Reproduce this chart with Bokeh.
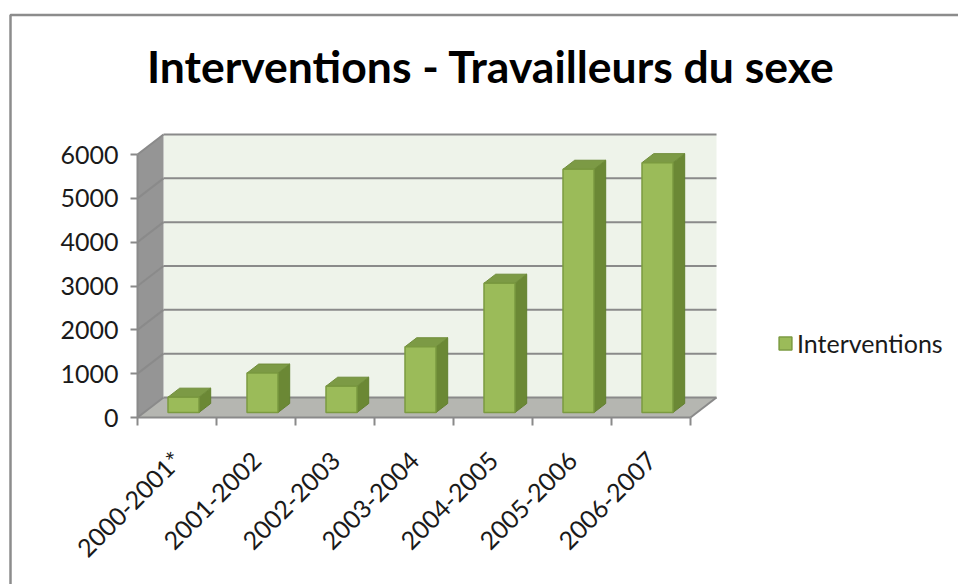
import numpy as np
from math import pi
from bokeh.plotting import figure
from bokeh.models import Range1d, LinearAxis, FixedTicker, Label, Legend, LegendItem, Grid
from bokeh.embed import file_html
from bokeh.resources import INLINE

# ---------------- data ----------------
categories = ["2000-2001*", "2001-2002", "2002-2003", "2003-2004",
              "2004-2005", "2005-2006", "2006-2007"]
interventions = [350, 900, 600, 1500, 2950, 5550, 5700]
y_ticks = [0, 1000, 2000, 3000, 4000, 5000, 6000]
series_name = "Interventions"
title_text = "Interventions - Travailleurs du sexe"

# ---------------- layout constants (pixels) ----------------
W, H = 958, 584
AX_X = 137.0          # canvas x of the front vertical axis
AX_Y = 417.0          # canvas y (from top) of the front baseline
CAT_PX = 79.0         # pixels per category
KY = 263.0 / 6000.0   # pixels per value unit
DEPTH_PX = (26.0, 20.0)   # floor depth offset (right, up)
BAR_W_PX = 31.0
BF0, BD = 0.25, 0.45  # bar front position / bar depth as fraction of floor depth

n = len(categories)
x_left_data = -0.5
def sx(px):  # canvas px -> data x
    return x_left_data + (px - AX_X) / CAT_PX
def sy(py):  # canvas px from top -> data y
    return (AX_Y - py) / KY

DX = DEPTH_PX[0] / CAT_PX
DY = DEPTH_PX[1] / KY
BAR_W = BAR_W_PX / CAT_PX
ymax = y_ticks[-1]
x0, x1 = -0.5, n - 0.5

p = figure(width=W, height=H,
           x_range=Range1d(sx(0), sx(W)), y_range=Range1d(sy(H), sy(0)),
           output_backend="svg", toolbar_location=None,
           x_axis_location=None, y_axis_location=None,
           min_border=0, outline_line_color=None,
           background_fill_color="white", border_fill_color="white")
for r in list(p.center):
    if isinstance(r, Grid):
        r.visible = False

GRID_COL = "#8a8a8a"

# chart area border (left and top only visible)
bx = sx(10)
by = sy(14.5)
p.line([bx, bx, sx(W + 2)], [sy(H + 2), by, by], line_color="#8c8c8c", line_width=2.5)

# back wall
p.patch([x0 + DX, x1 + DX, x1 + DX, x0 + DX], [DY, DY, ymax + DY, ymax + DY],
        fill_color="#eef3ea", line_color=None)
# left wall
p.patch([x0, x0 + DX, x0 + DX, x0], [0, DY, ymax + DY, ymax],
        fill_color="#959595", line_color=None)
# floor
p.patch([x0, x1, x1 + DX, x0 + DX], [0, 0, DY, DY],
        fill_color="#b5b6b1", line_color=None)

# gridlines on back wall and left wall
t = np.array(y_ticks, dtype=float)
p.segment(x0=np.full(len(t), x0 + DX), y0=t + DY, x1=np.full(len(t), x1 + DX), y1=t + DY,
          line_color=GRID_COL, line_width=2)
p.segment(x0=np.full(len(t), x0), y0=t, x1=np.full(len(t), x0 + DX), y1=t + DY,
          line_color=GRID_COL, line_width=2)
# floor right edge
p.segment(x0=[x1], y0=[0], x1=[x1 + DX], y1=[DY], line_color=GRID_COL, line_width=2)

# bars (3D look)
vals = np.array(interventions, dtype=float)
idx = np.arange(n, dtype=float)
left = idx - BAR_W / 2 + BF0 * DX
right = left + BAR_W
bottom = np.full(n, BF0 * DY)
top = vals + BF0 * DY
bdx, bdy = BD * DX, BD * DY

side_xs = [[r, r + bdx, r + bdx, r] for r in right]
side_ys = [[b, b + bdy, tt + bdy, tt] for b, tt in zip(bottom, top)]
top_xs = [[l, r, r + bdx, l + bdx] for l, r in zip(left, right)]
top_ys = [[tt, tt, tt + bdy, tt + bdy] for tt in top]

p.patches(side_xs, side_ys, fill_color="#6b8835", line_color="#62802f", line_width=1)
p.patches(top_xs, top_ys, fill_color="#7c9a45", line_color="#6f8c3a", line_width=1)
front = p.quad(left=left, right=right, bottom=bottom, top=top,
               fill_color="#9bbb59", line_color="#7b9a40", line_width=1.5)

# axes
yaxis = LinearAxis(fixed_location=x0, ticker=FixedTicker(ticks=y_ticks), bounds=(0, ymax))
yaxis.axis_line_color = GRID_COL
yaxis.axis_line_width = 2
yaxis.major_tick_line_color = GRID_COL
yaxis.major_tick_line_width = 2
yaxis.major_tick_out = 7
yaxis.major_tick_in = 0
yaxis.minor_tick_out = 0
yaxis.minor_tick_in = 0
yaxis.major_label_standoff = 12
yaxis.major_label_text_font = "Lato"
yaxis.major_label_text_font_size = "25px"
yaxis.major_label_text_color = "#1a1a1a"
p.add_layout(yaxis, "left")

xaxis = LinearAxis(fixed_location=0,
                   ticker=FixedTicker(ticks=list(range(n)),
                                      minor_ticks=[i - 0.5 for i in range(n + 1)]),
                   bounds=(x0, x1))
xaxis.major_label_overrides = {i: c for i, c in enumerate(categories)}
xaxis.axis_line_color = GRID_COL
xaxis.axis_line_width = 2
xaxis.major_tick_out = 0
xaxis.major_tick_in = 0
xaxis.minor_tick_line_color = GRID_COL
xaxis.minor_tick_line_width = 2
xaxis.minor_tick_out = 8
xaxis.minor_tick_in = 0
xaxis.major_label_orientation = pi / 4
xaxis.major_label_standoff = 30
xaxis.major_label_text_font = "Lato"
xaxis.major_label_text_font_size = "25px"
xaxis.major_label_text_color = "#1a1a1a"
p.add_layout(xaxis, "below")

# title
p.add_layout(Label(x=490.5, y=H - 65, x_units="screen", y_units="screen",
                   text=title_text, text_align="center", text_baseline="alphabetic",
                   text_font="Lato", text_font_style="bold", text_font_size="44.5px",
                   text_color="#000000"))

# legend
legend = Legend(items=[LegendItem(label=series_name, renderers=[front])],
                location=(777, 226), padding=0, margin=0, spacing=0,
                glyph_width=16, glyph_height=16, label_standoff=4,
                border_line_color=None, background_fill_alpha=0,
                label_text_font="Lato", label_text_font_size="25px",
                label_text_color="#1a1a1a")
p.add_layout(legend, "center")

open("out.html", "w").write(file_html(p, INLINE))
